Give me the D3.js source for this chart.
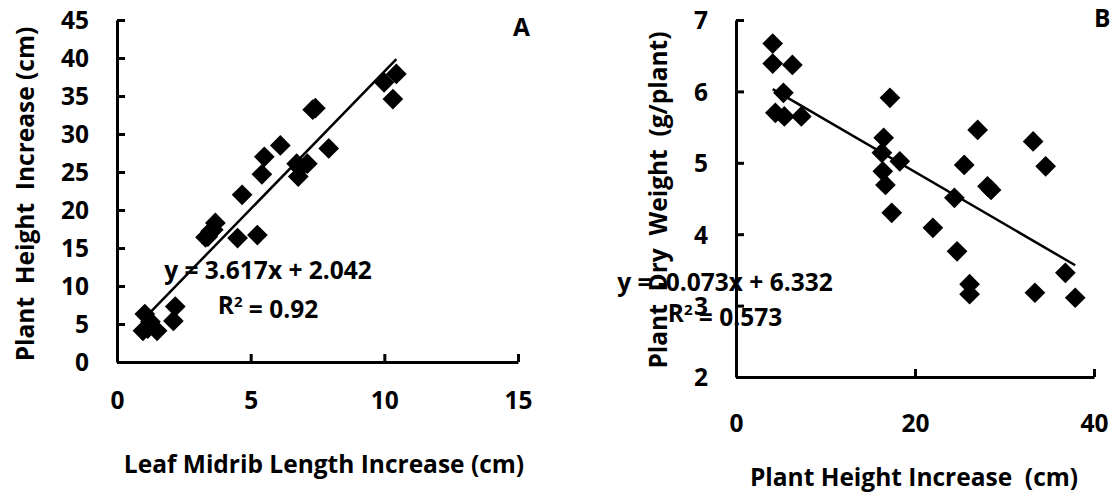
<!DOCTYPE html>
<html>
<head>
<meta charset="utf-8">
<script src="https://cdn.jsdelivr.net/npm/d3@7"></script>
<style>
  body { margin: 0; background: #fff; }
  svg text { font-family: "Open Sans", sans-serif; font-weight: bold; fill: #000; }
</style>
</head>
<body>
<div id="chart"></div>
<script>
// one row per plant, sorted by plant height increase
const midribIncrease = [0.97, 1.5, 1.15, 1.25, 2.11, 1.04, 2.18,
    4.51, 3.31, 3.4, 5.25, 3.5, 3.6, 3.68,
    4.68, 6.78, 5.42, 6.85, 6.72, 7.12, 5.51, 7.92, 6.11, 7.32, 7.42, 10.32, 9.99, 10.45];
const heightIncrease = [4.1, 4.1, 4.4, 5.3, 5.4, 6.3, 7.3,
    16.3, 16.4, 16.5, 16.7, 17.2, 17.4, 18.3,
    22.0, 24.4, 24.7, 25.5, 26.1, 26.1, 27.0, 28.1, 28.5, 33.2, 33.4, 34.6, 36.8, 37.9];
const dryWeight = [6.67, 6.39, 5.70, 5.98, 5.65, 6.37, 5.65,
    5.14, 4.88, 5.35, 4.69, 5.91, 4.30, 5.02,
    4.09, 4.51, 3.76, 4.97, 3.30, 3.16, 5.46, 4.67, 4.62, 5.30, 3.18, 4.95, 3.46, 3.11];

// trendline coefficients as printed on the chart
const fitA = { slope: 3.617, intercept: 2.042, r2: "0.92" };
const fitB = { slope: -0.073, intercept: 6.332, r2: "0.573" };

const ticksA_x = [0, 5, 10, 15];
const ticksA_y = [0, 5, 10, 15, 20, 25, 30, 35, 40, 45];
const ticksB_x = [0, 20, 40];
const ticksB_y = [2, 3, 4, 5, 6, 7];

const width = 1112, height = 493;
const fs = 24.5;

const svg = d3.select("#chart").append("svg")
    .attr("width", width)
    .attr("height", height);

const diamond = d3.symbol().type(d3.symbolSquare).size(215);

function panel(opt) {
    const x = d3.scaleLinear().domain(opt.xDomain).range(opt.xRange);
    const y = d3.scaleLinear().domain(opt.yDomain).range(opt.yRange);
    const g = svg.append("g");

    // axes with ticks pointing inside
    const xAxis = g.append("g")
        .attr("transform", `translate(0,${opt.yRange[0]})`)
        .call(d3.axisBottom(x).tickValues(opt.xTicks).tickFormat(d3.format("d"))
            .tickSizeInner(-8).tickSizeOuter(0).tickPadding(opt.xPad));
    const yAxis = g.append("g")
        .attr("transform", `translate(${opt.xRange[0]},0)`)
        .call(d3.axisLeft(y).tickValues(opt.yTicks).tickFormat(d3.format("d"))
            .tickSizeInner(-8).tickSizeOuter(0).tickPadding(28));
    [xAxis, yAxis].forEach(a => {
        a.selectAll("path, line").attr("stroke", "#000").attr("stroke-width", 3);
        a.selectAll("text").style("font-size", fs + "px").attr("fill", "#000");
        a.attr("font-family", null);
    });
    yAxis.selectAll("text").attr("dy", "0.36em");

    // axis titles
    g.append("text")
        .attr("x", opt.xTitlePos[0])
        .attr("y", opt.xTitlePos[1])
        .attr("text-anchor", "middle")
        .style("font-size", fs + "px")
        .style("white-space", "pre")
        .text(opt.xTitle);
    g.append("text")
        .attr("transform", `translate(${opt.yTitlePos[0]},${opt.yTitlePos[1]}) rotate(-90)`)
        .attr("text-anchor", "middle")
        .style("font-size", fs + "px")
        .style("white-space", "pre")
        .text(opt.yTitle);

    // points
    g.selectAll(".pt")
        .data(opt.xs.map((v, i) => [v, opt.ys[i]]))
        .enter().append("path")
        .attr("class", "pt")
        .attr("d", diamond)
        .attr("transform", d => `translate(${x(d[0])},${y(d[1])}) rotate(45)`)
        .attr("fill", "#000");

    // linear trendline over the data range
    const ext = d3.extent(opt.xs);
    g.append("line")
        .attr("x1", x(ext[0])).attr("y1", y(opt.fit.slope * ext[0] + opt.fit.intercept))
        .attr("x2", x(ext[1])).attr("y2", y(opt.fit.slope * ext[1] + opt.fit.intercept))
        .attr("stroke", "#000")
        .attr("stroke-width", 2.5);

    // equation label
    const sign = opt.fit.intercept < 0 ? "-" : "+";
    g.append("text")
        .attr("x", opt.eqPos[0])
        .attr("y", opt.eqPos[1])
        .attr("text-anchor", "middle")
        .style("font-size", fs + "px")
        .text(`y = ${opt.fit.slope.toFixed(3)}x ${sign} ${Math.abs(opt.fit.intercept).toFixed(3)}`);
    const r2 = g.append("text")
        .attr("x", opt.eqPos[0])
        .attr("y", opt.eqPos[1] + opt.eqGap)
        .attr("text-anchor", "middle")
        .style("font-size", fs + "px");
    r2.append("tspan").text("R");
    r2.append("tspan").attr("dy", "-0.45em").style("font-size", "15px").text("2");
    r2.append("tspan").attr("dy", "0.45em").text(` = ${opt.fit.r2}`);

    g.append("text")
        .attr("x", opt.tag[1])
        .attr("y", opt.tag[2])
        .style("font-size", fs + "px")
        .text(opt.tag[0]);
}

panel({
    xDomain: [0, 15], xRange: [117, 518],
    yDomain: [0, 45], yRange: [362, 20],
    xTicks: ticksA_x, yTicks: ticksA_y, xPad: 30,
    xs: midribIncrease, ys: heightIncrease, fit: fitA,
    xTitle: "Leaf Midrib Length Increase (cm)", xTitlePos: [324, 473],
    yTitle: "Plant  Height  Increase (cm)", yTitlePos: [34, 194],
    eqPos: [268, 279], eqGap: 35,
    tag: ["A", 513, 36]
});

panel({
    xDomain: [0, 40], xRange: [736, 1094],
    yDomain: [2, 7], yRange: [377, 20],
    xTicks: ticksB_x, yTicks: ticksB_y, xPad: 38,
    xs: heightIncrease, ys: dryWeight, fit: fitB,
    xTitle: "Plant Height Increase  (cm)", xTitlePos: [914, 486],
    yTitle: "Plant  Dry  Weight  (g/plant)", yTitlePos: [667, 200],
    eqPos: [725, 291], eqGap: 31,
    tag: ["B", 1094, 27]
});
</script>
</body>
</html>
